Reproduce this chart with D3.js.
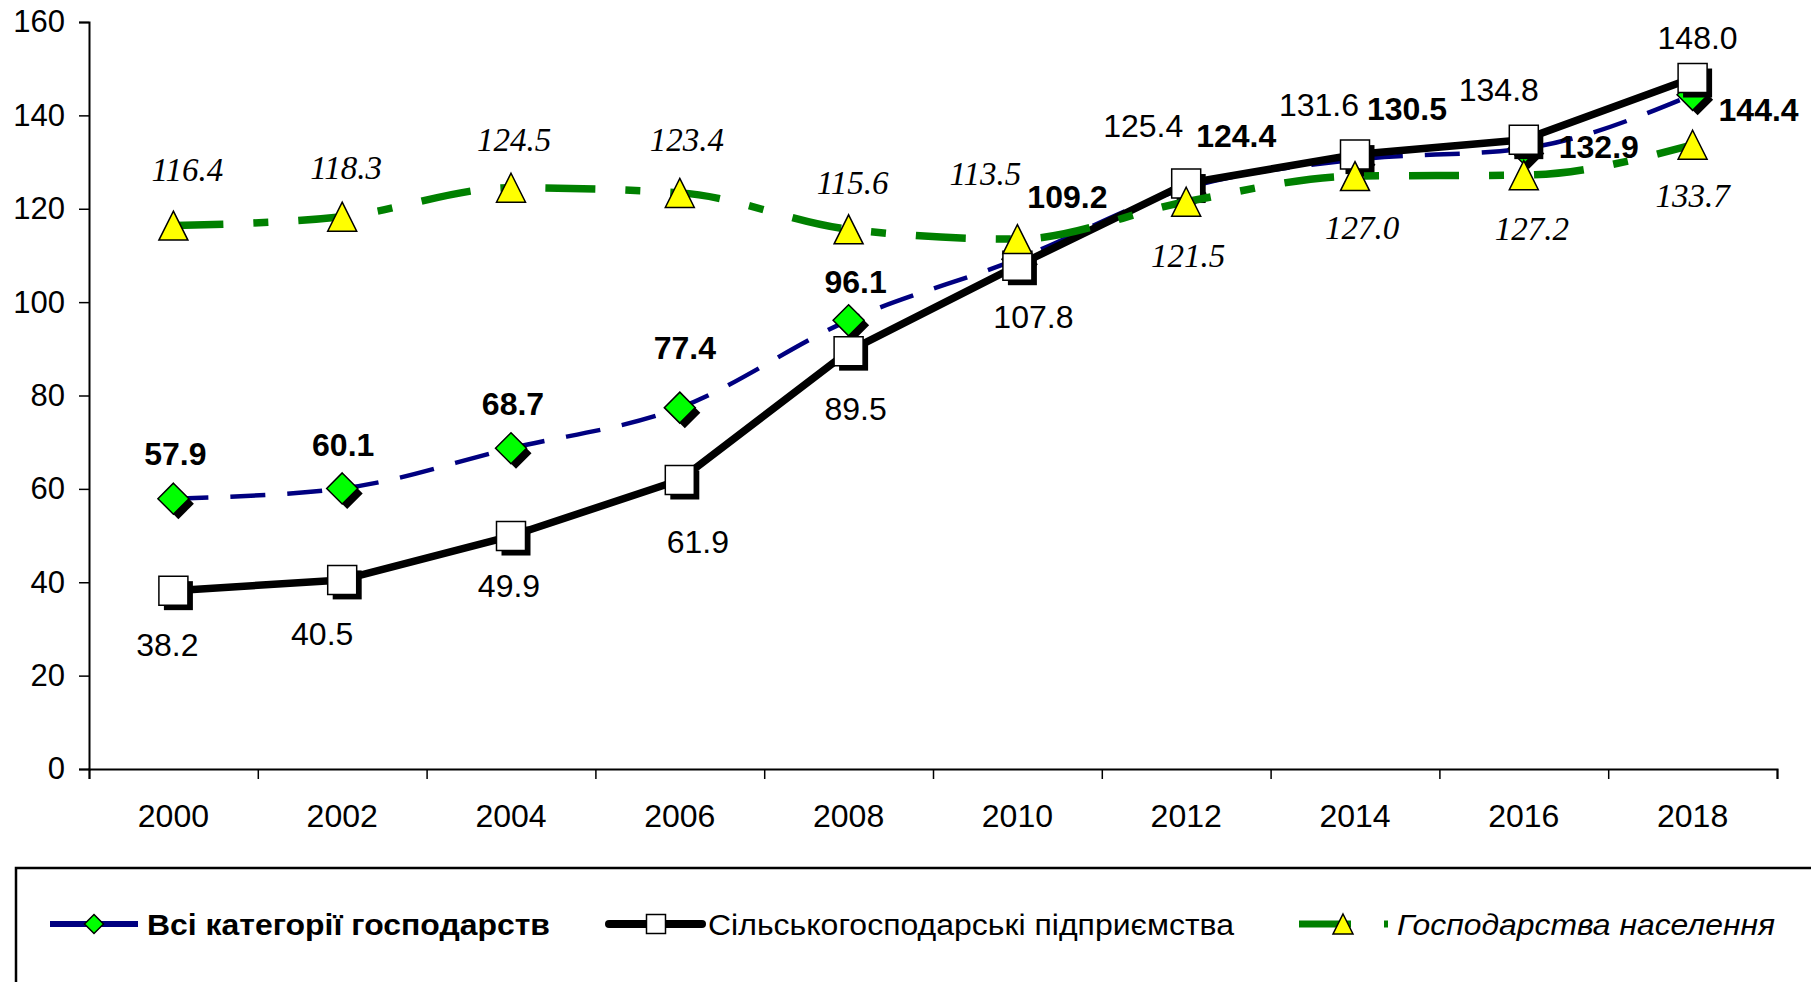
<!DOCTYPE html>
<html>
<head>
<meta charset="utf-8">
<script src="https://cdn.jsdelivr.net/npm/d3@7"></script>
<style>
  body { margin: 0; background: #fff; }
  svg { display: block; }
</style>
</head>
<body>
<div id="chart"></div>
<script>
// data
const years = ['2000', '2002', '2004', '2006', '2008', '2010', '2012', '2014', '2016', '2018'];
const allFarms = [57.9, 60.1, 68.7, 77.4, 96.1, 109.2, 124.4, 130.5, 132.9, 144.4];
const agriEnterprises = [38.2, 40.5, 49.9, 61.9, 89.5, 107.8, 125.4, 131.6, 134.8, 148.0];
const households = [116.4, 118.3, 124.5, 123.4, 115.6, 113.5, 121.5, 127.0, 127.2, 133.7];
const yTicks = [0, 20, 40, 60, 80, 100, 120, 140, 160];
const seriesNames = ['Всі категорії господарств', 'Сільськогосподарські підприємства', 'Господарства населення'];

// label offsets from the point (px), placed by hand like in the original
const allFarmsLabelPos = [[2, -45], [1, -44], [2, -44], [5, -60], [7, -39], [50, -62], [50, -52], [52, -51], [75, -2], [66, 15]];
const agriLabelPos = [[-6, 54], [-20, 54], [-2, 50], [18, 62], [7, 58], [16, 51], [-43, -58], [-36, -50], [-25, -50], [5, -40]];
const houseLabelPos = [[14, -56], [4, -49], [3, -48], [7, -53], [4, -47], [-32, -66], [2, 54], [7, 51], [8, 53], [0, 51]];

const width = 1811, height = 982;
const plotLeft = 89, plotRight = 1777, plotTop = 22, plotBottom = 769;
const sans = '"Liberation Sans", Arial, sans-serif';
const serif = '"Liberation Serif", "Times New Roman", serif';

const svg = d3.select('#chart').append('svg')
  .attr('width', width)
  .attr('height', height);

const x = d3.scaleBand().domain(years).range([plotLeft, plotRight]).padding(0);
const xc = d => x(d) + x.bandwidth() / 2;
const y = d3.scaleLinear().domain([0, 160]).range([plotBottom, plotTop]);

// y axis
const yAxis = svg.append('g')
  .attr('transform', `translate(${plotLeft},0)`)
  .call(d3.axisLeft(y).tickValues(yTicks).tickSize(10).tickPadding(14).tickFormat(d3.format('d')));
yAxis.select('.domain').attr('stroke', '#000').attr('stroke-width', 2);
yAxis.selectAll('.tick line').attr('stroke', '#000').attr('stroke-width', 1.5);
yAxis.selectAll('text').style('font-family', sans).style('font-size', '31px').attr('fill', '#000');

// x axis: labels at band centres, ticks at band boundaries
const xIdx = d3.scaleLinear().domain([0, years.length]).range([plotLeft, plotRight]);
const xTicks = svg.append('g')
  .attr('transform', `translate(0,${plotBottom})`)
  .call(d3.axisBottom(xIdx).tickValues(d3.range(years.length + 1)).tickSize(10).tickFormat(''));
xTicks.select('.domain').attr('stroke', '#000').attr('stroke-width', 2);
xTicks.selectAll('.tick line').attr('stroke', '#000').attr('stroke-width', 1.5);

const xAxis = svg.append('g')
  .attr('transform', `translate(0,${plotBottom})`)
  .call(d3.axisBottom(x).tickSize(0).tickPadding(35));
xAxis.select('.domain').remove();
xAxis.selectAll('text').style('font-family', sans).style('font-size', '32px').attr('fill', '#000');

const smooth = d3.curveMonotoneX;

function lineGen(vals, curve) {
  return d3.line()
    .x((d, i) => xc(years[i]))
    .y(d => y(d))
    .curve(curve)(vals);
}

const diamond = s => `M0,${-s / 2}L${s / 2},0L0,${s / 2}L${-s / 2},0Z`;
const square = s => `M${-s / 2},${-s / 2}h${s}v${s}h${-s}Z`;
const triangle = s => `M0,${-s / 2}L${s / 2},${s / 2}L${-s / 2},${s / 2}Z`;

// series 1: all farms
svg.append('path')
  .attr('d', lineGen(allFarms, smooth))
  .attr('fill', 'none')
  .attr('stroke', '#000080')
  .attr('stroke-width', 4.5)
  .attr('stroke-dasharray', '35,22');

const g1 = svg.append('g');
allFarms.forEach((v, i) => {
  const px = xc(years[i]), py = y(v);
  g1.append('path').attr('d', diamond(31)).attr('transform', `translate(${px + 5},${py + 5})`).attr('fill', '#000');
  g1.append('path').attr('d', diamond(31)).attr('transform', `translate(${px},${py})`)
    .attr('fill', '#00ff00').attr('stroke', '#000').attr('stroke-width', 1.5);
});

// series 2: agricultural enterprises
svg.append('path')
  .attr('d', lineGen(agriEnterprises, d3.curveLinear))
  .attr('fill', 'none')
  .attr('stroke', '#000')
  .attr('stroke-width', 7.5)
  .attr('stroke-linejoin', 'round');

const g2 = svg.append('g');
agriEnterprises.forEach((v, i) => {
  const px = xc(years[i]), py = y(v);
  g2.append('path').attr('d', square(29)).attr('transform', `translate(${px + 5},${py + 5})`).attr('fill', '#000');
  g2.append('path').attr('d', square(29)).attr('transform', `translate(${px},${py})`)
    .attr('fill', '#fff').attr('stroke', '#000').attr('stroke-width', 1.5);
});

// series 3: households
svg.append('path')
  .attr('d', lineGen(households, smooth))
  .attr('fill', 'none')
  .attr('stroke', '#008000')
  .attr('stroke-width', 7.5)
  .attr('stroke-dasharray', '50,30,15,30');

const g3 = svg.append('g');
households.forEach((v, i) => {
  g3.append('path').attr('d', triangle(29)).attr('transform', `translate(${xc(years[i])},${y(v)})`)
    .attr('fill', '#ffff00').attr('stroke', '#000').attr('stroke-width', 1.5);
});

// data labels
function labels(vals, pos, font, size, weight, style) {
  svg.append('g').selectAll('text')
    .data(vals)
    .join('text')
    .attr('x', (d, i) => xc(years[i]) + pos[i][0])
    .attr('y', (d, i) => y(d) + pos[i][1])
    .attr('dy', '0.35em')
    .attr('text-anchor', 'middle')
    .style('font-family', font)
    .style('font-size', size)
    .style('font-weight', weight)
    .style('font-style', style)
    .text(d => d.toFixed(1));
}
labels(allFarms, allFarmsLabelPos, sans, '32px', 'bold', 'normal');
labels(agriEnterprises, agriLabelPos, sans, '32px', 'normal', 'normal');
labels(households, houseLabelPos, serif, '33px', 'normal', 'italic');

// legend
svg.append('rect')
  .attr('x', 16).attr('y', 868)
  .attr('width', 1850).attr('height', 200)
  .attr('fill', 'none').attr('stroke', '#000').attr('stroke-width', 2.5);

const ly = 924;
const leg = svg.append('g');
leg.append('line').attr('x1', 50).attr('x2', 138).attr('y1', ly).attr('y2', ly)
  .attr('stroke', '#000080').attr('stroke-width', 6);
leg.append('path').attr('d', diamond(19)).attr('transform', `translate(94,${ly})`)
  .attr('fill', '#00ff00').attr('stroke', '#000').attr('stroke-width', 1.5);
leg.append('text').attr('x', 147).attr('y', ly).attr('dy', '0.35em')
  .attr('textLength', 403).attr('lengthAdjust', 'spacingAndGlyphs')
  .style('font-family', sans).style('font-size', '30px').style('font-weight', 'bold')
  .text(seriesNames[0]);

leg.append('line').attr('x1', 609).attr('x2', 702).attr('y1', ly).attr('y2', ly)
  .attr('stroke', '#000').attr('stroke-width', 8).attr('stroke-linecap', 'round');
leg.append('path').attr('d', square(19)).attr('transform', `translate(656,${ly})`)
  .attr('fill', '#fff').attr('stroke', '#000').attr('stroke-width', 1.5);
leg.append('text').attr('x', 708).attr('y', ly).attr('dy', '0.35em')
  .attr('textLength', 526).attr('lengthAdjust', 'spacingAndGlyphs')
  .style('font-family', sans).style('font-size', '30px')
  .text(seriesNames[1]);

leg.append('line').attr('x1', 1299).attr('x2', 1388).attr('y1', ly).attr('y2', ly)
  .attr('stroke', '#008000').attr('stroke-width', 7).attr('stroke-dasharray', '52,33,15,30');
leg.append('path').attr('d', triangle(20)).attr('transform', `translate(1343,${ly})`)
  .attr('fill', '#ffff00').attr('stroke', '#000').attr('stroke-width', 1.5);
leg.append('text').attr('x', 1397).attr('y', ly).attr('dy', '0.35em')
  .attr('textLength', 378).attr('lengthAdjust', 'spacingAndGlyphs')
  .style('font-family', sans).style('font-size', '30px').style('font-style', 'italic')
  .text(seriesNames[2]);
</script>
</body>
</html>
